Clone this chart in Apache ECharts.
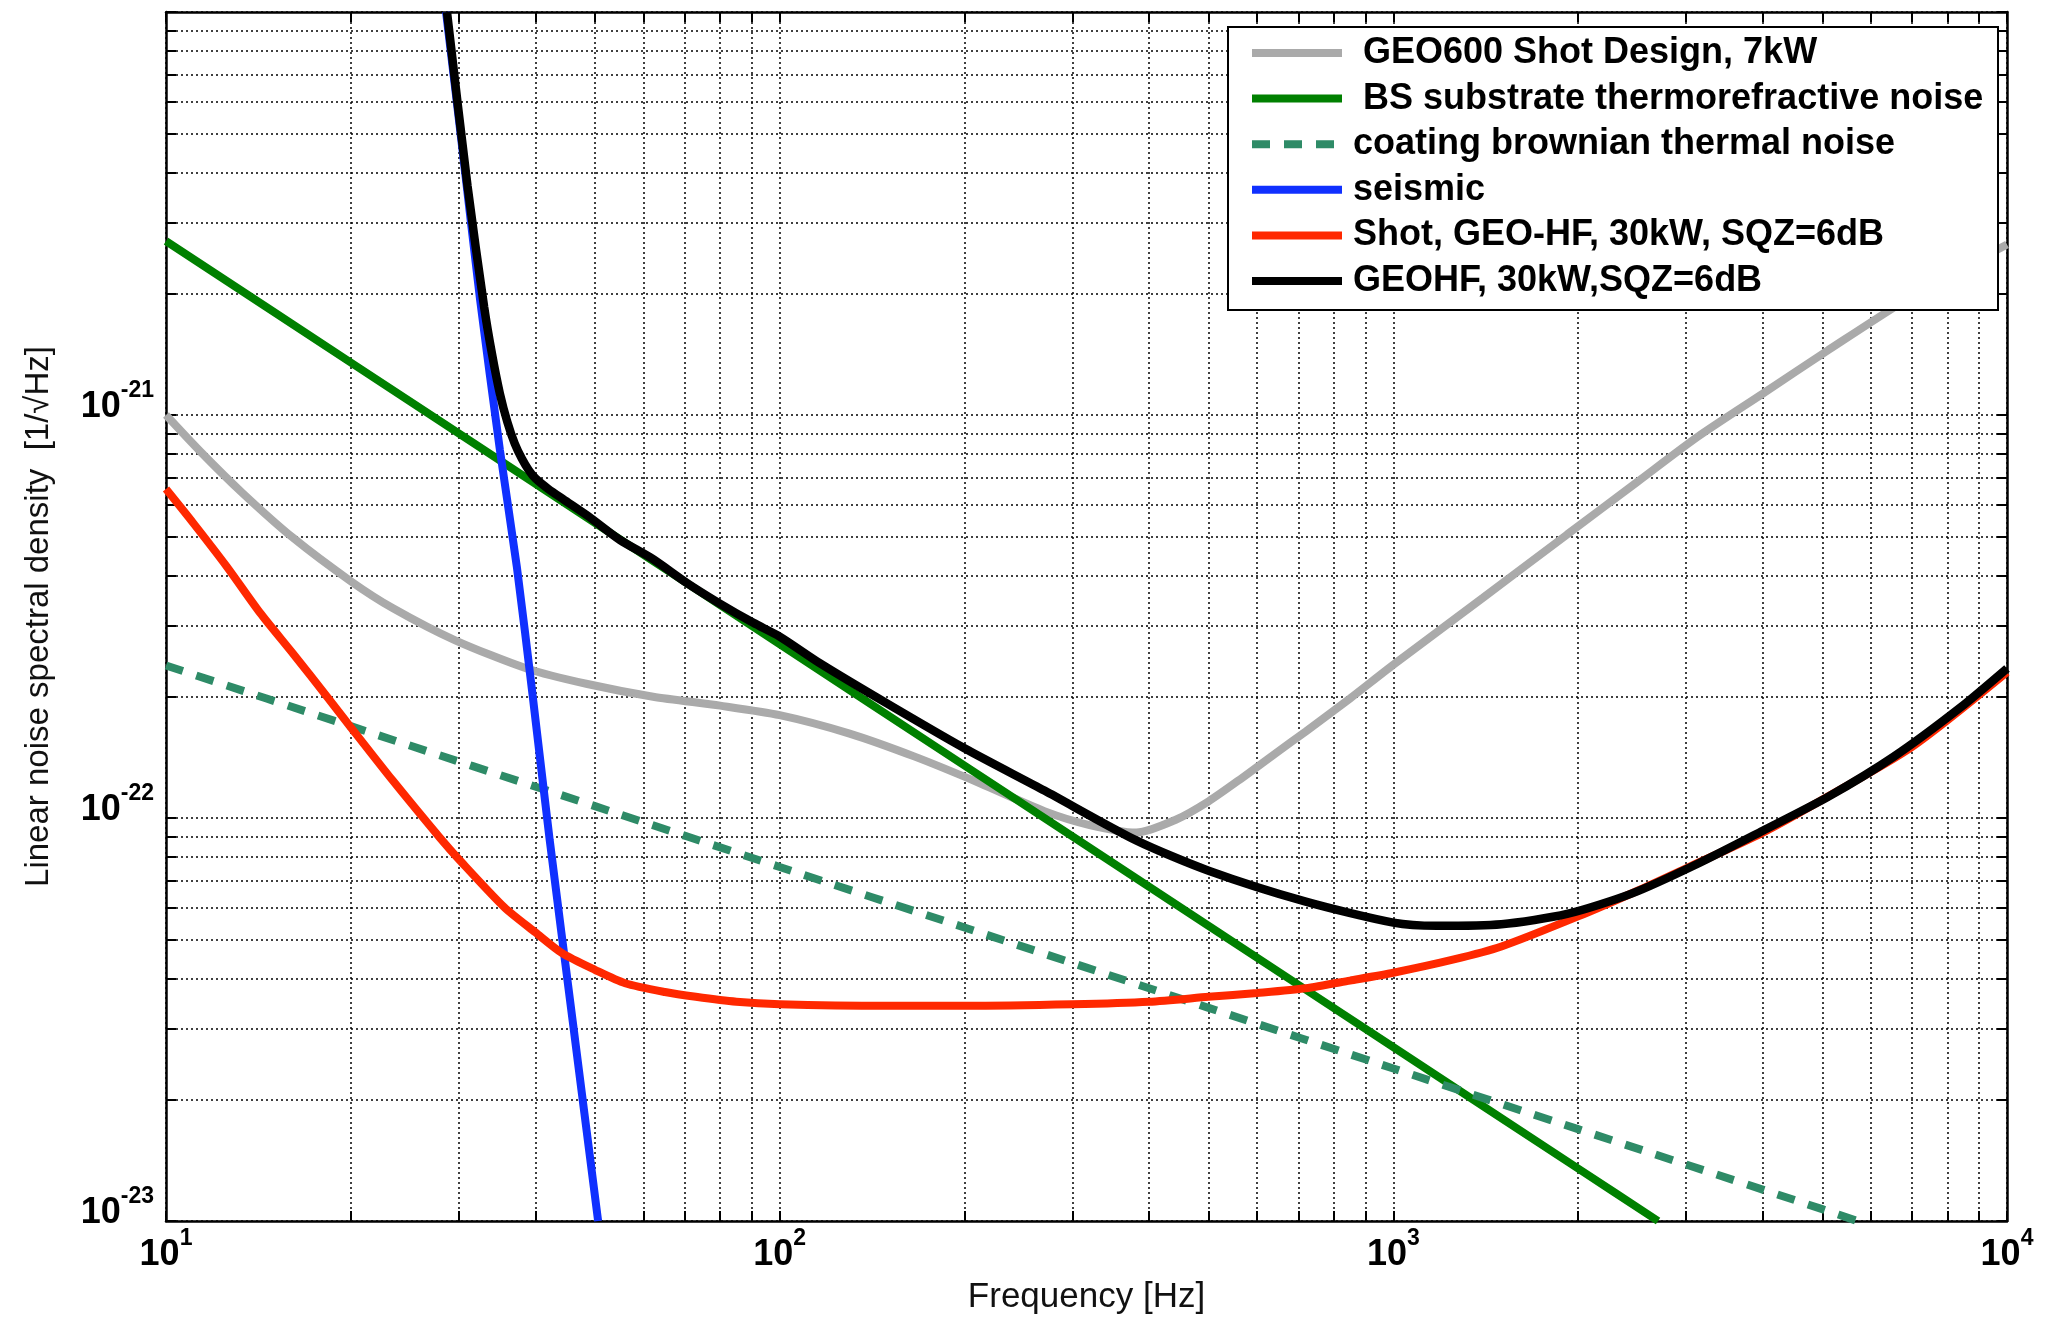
<!DOCTYPE html>
<html>
<head>
    <meta charset="utf-8">
    <script src="https://cdn.jsdelivr.net/npm/echarts@6/dist/echarts.min.js"></script>
    <style>html, body { margin: 0; padding: 0; background: #fff; }</style>
</head>
<body>
<div id="chart" style="width: 2047px; height: 1321px;"></div>
<script type="text/javascript">
    // Data: frequency [Hz] and noise level [1/sqrt(Hz)]
    var geo600Freq = [10, 11.4, 13.3, 16.1, 20, 23.4, 29.6, 38.7, 48.6, 62.2, 80, 100, 130, 166, 212, 270, 320, 381, 442, 500, 564, 640, 720, 850, 1000, 1400, 1919, 2500, 3133, 4000, 5117, 7000, 10000];
    var geo600Asd = [1.0e-21, 8.09e-22, 6.42e-22, 4.96e-22, 3.87e-22, 3.32e-22, 2.76e-22, 2.35e-22, 2.15e-22, 2.0e-22, 1.9e-22, 1.8e-22, 1.62e-22, 1.42e-22, 1.22e-22, 1.04e-22, 9.6e-23, 9.2e-23, 9.9e-23, 1.1e-22, 1.25e-22, 1.44e-22, 1.64e-22, 1.98e-22, 2.4e-22, 3.52e-22, 5.05e-22, 6.83e-22, 8.83e-22, 1.13e-21, 1.45e-21, 1.97e-21, 2.65e-21];

    var bsFreq = [10, 20, 50, 100, 200, 500, 1000, 2000, 2700];
    var bsAsd = [2.7e-21, 1.35e-21, 5.4e-22, 2.7e-22, 1.35e-22, 5.4e-23, 2.7e-23, 1.35e-23, 1.0e-23];

    var coatFreq = [10, 20, 50, 100, 200, 500, 1000, 2000, 5000, 5700];
    var coatAsd = [2.39e-22, 1.69e-22, 1.07e-22, 7.56e-23, 5.35e-23, 3.38e-23, 2.39e-23, 1.69e-23, 1.07e-23, 1.0e-23];

    var seisFreq = [28.6, 30.5, 32.5, 35.0, 37.3, 39.6, 42.2, 46.0, 50.6];
    var seisAsd = [1e-20, 4.4e-21, 1.93e-21, 8.2e-22, 4.2e-22, 2.0e-22, 8.8e-23, 3.13e-23, 1.0e-23];

    var shotFreq = [10, 11.07, 12.57, 14.23, 16.1, 18.3, 20, 23.4, 28, 30, 35.6, 40, 44.2, 50, 56, 65, 73, 85, 100, 150, 200, 300, 400, 500, 600, 720, 850, 1000, 1250, 1500, 2000, 2500, 3000, 4000, 5000, 7000, 10000];
    var shotAsd = [6.55e-22, 5.4e-22, 4.2e-22, 3.23e-22, 2.56e-22, 2.0e-22, 1.68e-22, 1.24e-22, 8.9e-23, 7.9e-23, 6.0e-23, 5.2e-23, 4.62e-23, 4.2e-23, 3.89e-23, 3.7e-23, 3.6e-23, 3.5e-23, 3.45e-23, 3.42e-23, 3.42e-23, 3.45e-23, 3.5e-23, 3.6e-23, 3.68e-23, 3.78e-23, 3.95e-23, 4.13e-23, 4.45e-23, 4.8e-23, 5.7e-23, 6.6e-23, 7.5e-23, 9.2e-23, 1.11e-22, 1.5e-22, 2.3e-22];

    var totalFreq = [28.7, 31, 33, 34, 35, 36, 37, 38, 39, 40, 42, 44.4, 49, 54.9, 62, 70.6, 80, 90.6, 100, 116.4, 150, 200, 270, 381, 500, 720, 1000, 1176, 1500, 1919, 2450, 3133, 4000, 5117, 6540, 8360, 10000];
    var totalAsd = [1e-20, 3.7e-21, 1.85e-21, 1.41e-21, 1.13e-21, 9.6e-22, 8.5e-22, 7.8e-22, 7.3e-22, 6.96e-22, 6.55e-22, 6.18e-22, 5.58e-22, 4.9e-22, 4.4e-22, 3.83e-22, 3.4e-22, 3.05e-22, 2.82e-22, 2.42e-22, 1.92e-22, 1.49e-22, 1.17e-22, 8.8e-23, 7.4e-23, 6.2e-23, 5.5e-23, 5.4e-23, 5.45e-23, 5.78e-23, 6.5e-23, 7.7e-23, 9.3e-23, 1.13e-22, 1.42e-22, 1.87e-22, 2.35e-22];

    var seriesNames = [' GEO600 Shot Design, 7kW', ' BS substrate thermorefractive noise', 'coating brownian thermal noise', 'seismic', 'Shot, GEO-HF, 30kW, SQZ=6dB', 'GEOHF, 30kW,SQZ=6dB'];
    var seriesColors = ['#aaaaaa', '#008000', '#2e8b67', '#1030ff', '#ff2800', '#000000'];

    var xLabelValues = [10, 100, 1000, 10000];
    var yLabelValues = [1e-23, 1e-22, 1e-21];

    // gridlines at 1..9 x 10^n
    function logTicks(lo, hi) {
        var out = [];
        for (var e = lo; e < hi; e++) {
            for (var k = 1; k <= 9; k++) out.push(k * Math.pow(10, e));
        }
        out.push(Math.pow(10, hi));
        return out;
    }
    var xTickValues = logTicks(1, 4);
    var yTickValues = logTicks(-23, -20);

    function pairs(f, v) { return f.map(function (x, i) { return [x, v[i]]; }); }

    var font = '"Liberation Sans", Arial, Helvetica, sans-serif';
    var expRich = {
        b: { fontSize: 36, fontWeight: 'bold', fontFamily: font, color: '#000', lineHeight: 56, verticalAlign: 'middle' },
        s: { fontSize: 23, fontWeight: 'bold', fontFamily: font, color: '#000', lineHeight: 23, verticalAlign: 'top' }
    };
    function expLabel(v) { return '{b|10}{s|' + Math.round(Math.log10(v)) + '}'; }

    var dotted = { color: '#000', width: 1.5, type: [2, 3] };
    var axisLine = { show: true, onZero: false, lineStyle: { color: '#000', width: 2.5 } };

    function freqAxis(pos, main) {
        return {
            type: 'log', logBase: 10, min: 10, max: 10000, position: pos,
            name: main ? 'Frequency [Hz]' : '', nameLocation: 'middle', nameGap: 59, nameMoveOverlap: false,
            nameTextStyle: { fontSize: 35, fontFamily: font, color: '#111' },
            axisLine: axisLine,
            axisTick: { show: true, inside: true, length: 10, customValues: xTickValues, lineStyle: { color: '#000', width: 2 } },
            axisLabel: main ? { show: true, customValues: xLabelValues, margin: 6, formatter: expLabel, rich: expRich } : { show: false },
            splitLine: { show: main, lineStyle: dotted }
        };
    }
    function asdAxis(pos, main) {
        return {
            type: 'log', logBase: 10, min: 1e-23, max: 1e-20, position: pos,
            name: main ? 'Linear noise spectral density  [1/\u221AHz]' : '', nameLocation: 'middle', nameGap: 111, nameMoveOverlap: false,
            nameTextStyle: { fontSize: 33, fontFamily: font, color: '#111' },
            axisLine: axisLine,
            axisTick: { show: true, inside: true, length: 10, customValues: yTickValues, lineStyle: { color: '#000', width: 2 } },
            axisLabel: main ? { show: true, customValues: yLabelValues, margin: 12, padding: [0, 0, 15, 0], formatter: expLabel, rich: expRich } : { show: false },
            splitLine: { show: main, lineStyle: dotted }
        };
    }

    var curves = [
        [geo600Freq, geo600Asd], [bsFreq, bsAsd], [coatFreq, coatAsd],
        [seisFreq, seisAsd], [shotFreq, shotAsd], [totalFreq, totalAsd]
    ];
    var series = curves.map(function (c, i) {
        return {
            name: seriesNames[i],
            type: 'line',
            xAxisIndex: 0, yAxisIndex: 0,
            data: pairs(c[0], c[1]),
            symbol: 'none',
            smooth: 0.25,
            clip: true,
            lineStyle: { color: seriesColors[i], width: i === 5 ? 8.5 : 8, type: i === 2 ? [18, 14] : 'solid' },
            itemStyle: { color: seriesColors[i] },
            z: 2 + i
        };
    });

    var chart = echarts.init(document.getElementById('chart'));
    chart.setOption({
        animation: false,
        backgroundColor: '#fff',
        grid: { left: 166, right: 40, top: 12, bottom: 100, containLabel: false, outerBoundsMode: 'none' },
        xAxis: [freqAxis('bottom', true), freqAxis('top', false)],
        yAxis: [asdAxis('left', true), asdAxis('right', false)],
        legend: {
            orient: 'vertical', left: 1228, top: 27,
            padding: [6, 11, 9, 20],
            itemWidth: 90, itemHeight: 14, itemGap: 5.6,
            selectedMode: false,
            backgroundColor: '#fff', borderColor: '#000', borderWidth: 2,
            itemStyle: { opacity: 0 },
            lineStyle: { width: 8 },
            textStyle: { fontSize: 36, fontWeight: 'bold', fontFamily: font, color: '#000', lineHeight: 40, width: 634, padding: [0, 0, 0, 6] },
            data: seriesNames
        },
        series: series
    });
</script>
</body>
</html>
